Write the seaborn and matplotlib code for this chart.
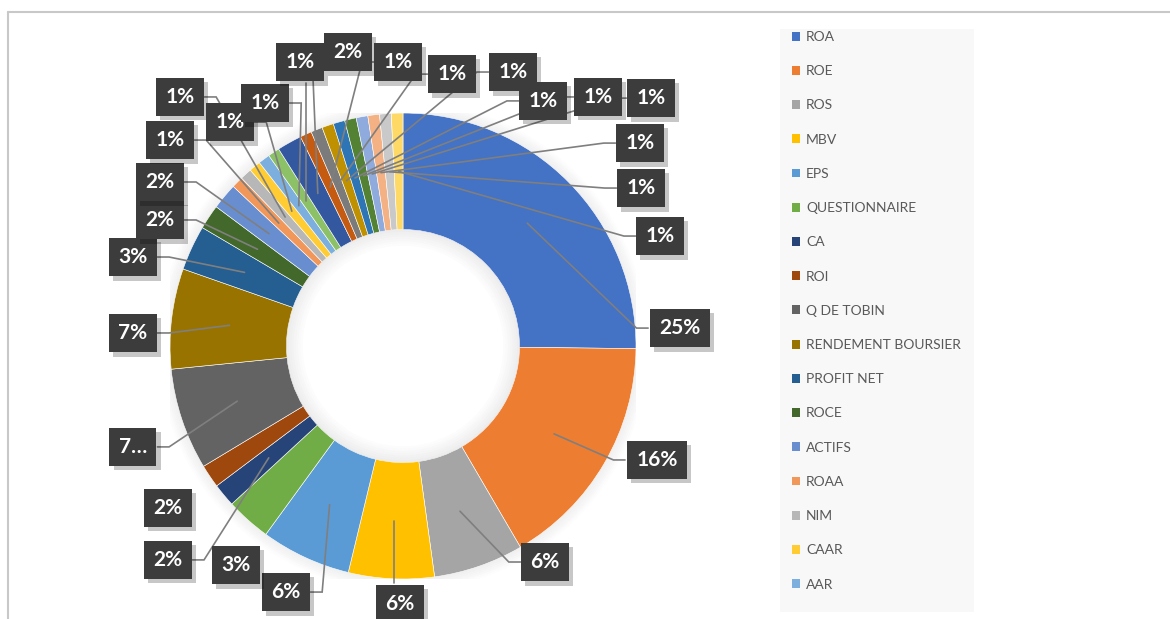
import numpy as np
import matplotlib
matplotlib.use("Agg")
import matplotlib.pyplot as plt
import matplotlib.patheffects as pe
from matplotlib.patches import Patch, Rectangle, Circle
from matplotlib.lines import Line2D
import seaborn as sns

# the legend only lists the first 17 indicators (Excel cut it off)
indicators = ["ROA", "ROE", "ROS", "MBV", "EPS", "QUESTIONNAIRE", "CA", "ROI",
              "Q DE TOBIN", "RENDEMENT BOURSIER", "PROFIT NET", "ROCE", "ACTIFS",
              "ROAA", "NIM", "CAAR", "AAR"]
# share (%) of every slice of the ring, clockwise from 12 o'clock
shares = [25.0, 16.3, 6.2, 5.9, 6.2, 3.1, 1.6, 1.6, 7.0, 6.9, 3.1, 1.7, 1.8,
          0.8, 0.8, 0.8, 0.8, 0.8, 1.7, 0.8, 0.8, 0.8, 0.8, 0.8, 0.8, 0.8, 0.8, 0.8]
pct_labels = ["25%", "16%", "6%", "6%", "6%", "3%", "2%", "2%", "7…", "7%", "3%",
              "2%", "2%", "1%", "1%", "1%", "1%", "1%", "2%", "1%", "1%", "1%",
              "1%", "1%", "1%", "1%", "1%", "1%"]

# excel office palette
colors = ["#4472C4", "#ED7D31", "#A5A5A5", "#FFC000", "#5B9BD5", "#70AD47",
          "#264478", "#9E480E", "#636363", "#997300", "#255E91", "#43682B",
          "#698ED0", "#F1975A", "#B7B7B7", "#FFCD33", "#7CAFDD", "#8CC168",
          "#3358A0", "#C55A11", "#7B7B7B", "#BF9000", "#2E75B6", "#548235",
          "#8FAADC", "#F4B183", "#C9C9C9", "#FFD966"]

# label box centres, in units of the outer radius
label_pos = [(1.189, 0.077), (1.090, -0.489), (0.609, -0.927), (-0.013, -1.107),
             (-0.502, -1.056), (-0.717, -0.940), (-1.009, -0.918), (-1.009, -0.695),
             (-1.159, -0.433), (-1.159, 0.056), (-1.159, 0.382), (-1.043, 0.541),
             (-1.043, 0.704), (-1.000, 0.884), (-0.957, 1.069), (-0.742, 0.961),
             (-0.592, 1.043), (-0.442, 1.219), (-0.236, 1.262), (-0.021, 1.219),
             (0.210, 1.167), (0.472, 1.176), (0.601, 1.052), (0.837, 1.069),
             (1.064, 1.064), (1.017, 0.871), (1.021, 0.678), (1.103, 0.472)]
no_leader = {5, 7}

sns.set_style("white")
plt.rcParams["font.family"] = ["Lato", "DejaVu Sans"]

fig = plt.figure(figsize=(11.7, 6.19), dpi=100)
ax = fig.add_axes([0.1453, 0.0646, 0.3983, 0.7528])

# soft shadow around the ring
for k in range(7):
    ax.add_patch(Circle((0, 0), 1.0 + k * 0.008, fill=False, lw=1.4,
                        ec=(0, 0, 0, 0.06 * (7 - k) / 7), zorder=0))

wedges, _ = ax.pie(shares, colors=colors, startangle=90, counterclock=False,
                   radius=1, wedgeprops=dict(width=0.5, edgecolor="white", linewidth=0.4))
for w in wedges:
    w.set_zorder(1)

# inner shadow of the hole, fading towards the centre
for k in range(7):
    ax.add_patch(Circle((0, 0), 0.495 - k * 0.01, fill=False, lw=1.7,
                        ec=(0, 0, 0, 0.07 * (7 - k) / 7), zorder=2))

ax.set_xlim(-1, 1)
ax.set_ylim(-1, 1)
ax.set_aspect("equal")
ax.axis("off")

total = sum(shares)
cum = np.cumsum([0] + shares[:-1])
hh = 0.09
for i, txt in enumerate(pct_labels):
    bx, by = label_pos[i]
    hw = 0.137 if len(txt) == 3 else 0.105
    a = 2 * np.pi * (cum[i] + shares[i] / 2) / total
    axx, ayy = 0.75 * np.sin(a), 0.75 * np.cos(a)
    if i not in no_leader:
        if axx < bx - hw:
            xs = [axx, bx - hw - 0.05, bx - hw]
            ys = [ayy, by, by]
        elif axx > bx + hw:
            xs = [axx, bx + hw + 0.05, bx + hw]
            ys = [ayy, by, by]
        else:
            xs = [axx, axx]
            ys = [ayy, by + hh if ayy > by else by - hh]
        ax.plot(xs, ys, color="#7f7f7f", lw=1.2, zorder=3, clip_on=False,
                solid_joinstyle="miter")
    t = ax.text(bx, by, txt, color="white", fontsize=15, fontweight="bold",
                ha="center", va="center", zorder=5, clip_on=False,
                bbox=dict(boxstyle="square,pad=0.45", fc="#3c3c3c", ec="none"))
    t.get_bbox_patch().set_path_effects(
        [pe.SimplePatchShadow(offset=(3, -3), shadow_rgbFace="black", alpha=0.22), pe.Normal()])

# chart area frame
fig.add_artist(Line2D([8 / 1170, 1], [1 - 12 / 619, 1 - 12 / 619], color="#c8c8c8", lw=1.5))
fig.add_artist(Line2D([8 / 1170, 8 / 1170], [0, 1 - 12 / 619], color="#c8c8c8", lw=1.5))

# legend panel
fig.add_artist(Rectangle((780 / 1170, 7 / 619), 194 / 1170, 583 / 619,
                         transform=fig.transFigure, fc="#f8f8f8", ec="none", zorder=0))
handles = [Patch(facecolor=colors[i], edgecolor="none") for i in range(len(indicators))]
fig.legend(handles, indicators, loc="upper left",
           bbox_to_anchor=(792 / 1170, 1 - 31 / 619), frameon=False, fontsize=10,
           labelcolor="#595959", handlelength=0.6, handleheight=0.6,
           handletextpad=0.4, labelspacing=1.6, borderpad=0, borderaxespad=0)

fig.savefig("out.png", dpi=100)
